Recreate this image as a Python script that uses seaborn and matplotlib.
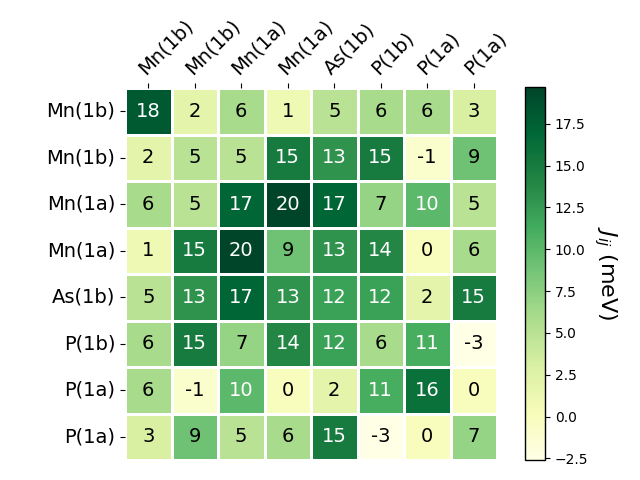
import numpy as np
import matplotlib
matplotlib.use("Agg")
import matplotlib.pyplot as plt
import seaborn as sns

labels = ["Mn(1b)", "Mn(1b)", "Mn(1a)", "Mn(1a)", "As(1b)", "P(1b)", "P(1a)", "P(1a)"]

row0 = [18.0, 2.0, 6.0, 1.0, 5.0, 6.0, 6.0, 3.0]
row1 = [2.0, 5.0, 5.0, 15.0, 13.0, 15.0, -1.0, 9.0]
row2 = [6.0, 5.0, 17.0, 19.7, 17.0, 7.0, 10.0, 5.0]
row3 = [1.0, 15.0, 19.7, 9.0, 13.0, 14.0, 0.0, 6.0]
row4 = [5.0, 13.0, 17.0, 13.0, 12.0, 12.0, 2.0, 15.0]
row5 = [6.0, 15.0, 7.0, 14.0, 12.0, 6.0, 11.0, -2.6]
row6 = [6.0, -1.0, 10.0, 0.0, 2.0, 11.0, 16.0, 0.0]
row7 = [3.0, 9.0, 5.0, 6.0, 15.0, -2.6, 0.0, 7.0]

data = np.array([row0, row1, row2, row3, row4, row5, row6, row7])

fig = plt.figure(figsize=(6.4, 4.8), dpi=100)
ax = fig.add_axes([125 / 640, 20 / 480, 372 / 640, 372 / 480])
cax = fig.add_axes([525 / 640, 20 / 480, 20 / 640, 373 / 480])
sns.heatmap(data, ax=ax, cbar_ax=cax, cmap="YlGn", annot=True, fmt=".0f",
            annot_kws={"size": 14}, linewidths=2, linecolor="white",
            square=True, xticklabels=labels, yticklabels=labels)
for t in ax.texts:
    c = matplotlib.colors.to_rgb(t.get_color())
    if sum(c) < 1.5:
        t.set_color("black")
ax.xaxis.tick_top()
ax.set_xticklabels(labels, rotation=45, fontsize=14, ha="left",
                   rotation_mode="anchor")
ax.set_yticklabels(labels, rotation=0, fontsize=14)
cbar = ax.collections[0].colorbar
cbar.set_label("$J_{ij}$ (meV)", rotation=270, fontsize=16, labelpad=22)
cbar.outline.set_visible(True)
cbar.outline.set_edgecolor("black")
cbar.outline.set_linewidth(1)
fig.savefig("out.png", dpi=100)
